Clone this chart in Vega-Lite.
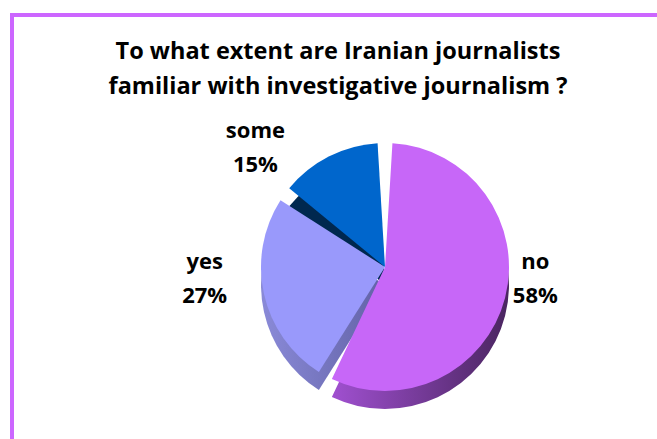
{
  "$schema": "https://vega.github.io/schema/vega-lite/v6.json",
  "width": 660,
  "height": 440,
  "autosize": {"type": "none"},
  "padding": {"left": 12, "top": 15, "right": -15, "bottom": -16},
  "background": "white",
  "view": {"stroke": "#cc66ff", "strokeWidth": 4},
  "title": {
    "text": ["To what extent are Iranian journalists", "familiar with investigative journalism ?"],
    "font": "Open Sans",
    "fontSize": 23.5,
    "fontWeight": "bold",
    "color": "black",
    "lineHeight": 35,
    "anchor": "middle",
    "frame": "group",
    "baseline": "top",
    "offset": -22,
    "dx": -4,
    "dy": 61
  },
  "data": {
    "values": [
      {"answer": "no", "value": 58, "rank": 1, "label": "no\n58%"},
      {"answer": "yes", "value": 27, "rank": 2, "label": "yes\n27%"},
      {"answer": "some", "value": 15, "rank": 3, "label": "some\n15%"}
    ]
  },
  "encoding": {
    "theta": {"field": "value", "type": "quantitative", "stack": true},
    "order": {"field": "rank", "type": "quantitative"}
  },
  "layer": [
    {
      "mark": {"type": "arc", "outerRadius": 124, "padAngle": 0.12, "x": {"expr": "width/2+43"}, "y": {"expr": "height/2+50"}, "fill": "#00284f"},
      "encoding": {
        "opacity": {"condition": {"test": "datum.answer === 'some'", "value": 1}, "value": 0}
      }
    },
    {
      "mark": {"type": "arc", "outerRadius": 124, "padAngle": 0.12, "x": {"expr": "width/2+43"}, "y": {"expr": "height/2+50"},
        "fill": {"gradient": "linear", "x1": 0, "y1": 0, "x2": 1, "y2": 0, "stops": [{"offset": 0, "color": "#8a8ad8"}, {"offset": 1, "color": "#6262a6"}]}},
      "encoding": {
        "opacity": {"condition": {"test": "datum.answer === 'yes'", "value": 1}, "value": 0}
      }
    },
    {
      "mark": {"type": "arc", "outerRadius": 124, "padAngle": 0.12, "x": {"expr": "width/2+43"}, "y": {"expr": "height/2+50"},
        "fill": {"gradient": "linear", "x1": 0, "y1": 0, "x2": 1, "y2": 0, "stops": [{"offset": 0, "color": "#a050d0"}, {"offset": 1, "color": "#4a2560"}]}},
      "encoding": {
        "opacity": {"condition": {"test": "datum.answer === 'no'", "value": 1}, "value": 0}
      }
    },
    {
      "mark": {"type": "arc", "outerRadius": 124, "padAngle": 0.12, "x": {"expr": "width/2+43"}, "y": {"expr": "height/2+32"}},
      "encoding": {
        "color": {"field": "answer", "type": "nominal", "scale": {"domain": ["no", "yes", "some"], "range": ["#c767f8", "#9999fb", "#0066cc"]}, "legend": null}
      }
    },
    {
      "mark": {"type": "text", "radius": 150, "x": {"expr": "width/2+43"}, "y": {"expr": "height/2+32"}, "dx": 5, "dy": -42, "font": "Open Sans", "fontSize": 22, "fontWeight": "bold", "lineBreak": "\n", "lineHeight": 34, "color": "black"},
      "encoding": {"text": {"condition": {"test": "datum.answer === 'no'", "field": "label"}, "value": ""}}
    },
    {
      "mark": {"type": "text", "radius": 150, "x": {"expr": "width/2+43"}, "y": {"expr": "height/2+32"}, "dx": -34, "dy": -38, "font": "Open Sans", "fontSize": 22, "fontWeight": "bold", "lineBreak": "\n", "lineHeight": 34, "color": "black"},
      "encoding": {"text": {"condition": {"test": "datum.answer === 'yes'", "field": "label"}, "value": ""}}
    },
    {
      "mark": {"type": "text", "radius": 140, "x": {"expr": "width/2+43"}, "y": {"expr": "height/2+32"}, "dx": -66, "dy": -11, "font": "Open Sans", "fontSize": 22, "fontWeight": "bold", "lineBreak": "\n", "lineHeight": 34, "color": "black"},
      "encoding": {"text": {"condition": {"test": "datum.answer === 'some'", "field": "label"}, "value": ""}}
    }
  ]
}
